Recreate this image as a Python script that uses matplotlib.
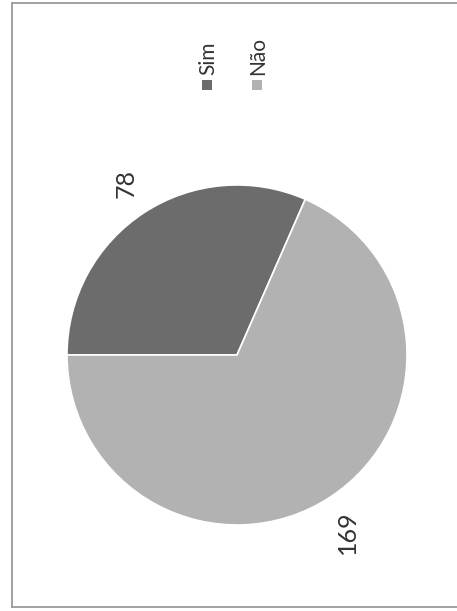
import matplotlib.pyplot as plt
from matplotlib.patches import Rectangle
from matplotlib.lines import Line2D

# dados (gráfico digitalizado, girado 90 graus)
categorias = ['Sim', 'Não']
valores = [78, 169]
cores = ['#6c6c6c', '#b2b2b2']

plt.rcParams['font.family'] = ['Lato', 'DejaVu Sans']

fig = plt.figure(figsize=(4.57, 6.11), dpi=100)
fig.patch.set_facecolor('white')

# moldura do gráfico (sem borda direita, cortada no scan)
x0, y0, y1 = 12 / 457, 1 - 607 / 611, 1 - 3 / 611
for xs, ys in [([x0, x0], [y0, y1]), ([x0, 1], [y0, y0]), ([x0, 1], [y1, y1])]:
    fig.lines.append(Line2D(xs, ys, transform=fig.transFigure,
                            color='#9a9a9a', linewidth=1.3))

ax = fig.add_axes([0.1466, 0.1408, 0.744, 0.5565])
fatias, _ = ax.pie(valores, colors=cores, startangle=180, counterclock=False,
                   wedgeprops=dict(edgecolor='white', linewidth=1.2))
ax.set_aspect('equal')
ax.set_xlim(-1, 1)
ax.set_ylim(-1, 1)

# rótulos de valor (texto vertical)
pos_rotulos = [(-0.65, 1.01), (0.65, -1.04)]
for v, (x, y) in zip(valores, pos_rotulos):
    ax.text(x, y, str(v), rotation=90, ha='center', va='center',
            fontsize=18, color='#333333', clip_on=False)

# legenda manual, girada
leg_x = [207 / 457, 257 / 457]
for cat, cor, lx in zip(categorias, cores, leg_x):
    fig.patches.append(Rectangle((lx - 5 / 457, 1 - 90 / 611), 10 / 457, 10 / 611,
                                 transform=fig.transFigure, facecolor=cor, edgecolor='none'))
    fig.text(lx + 1 / 457, 1 - 75 / 611, cat, rotation=90, ha='center', va='bottom',
             fontsize=15, color='#333333')

fig.savefig('out.png', dpi=100, facecolor='white')
